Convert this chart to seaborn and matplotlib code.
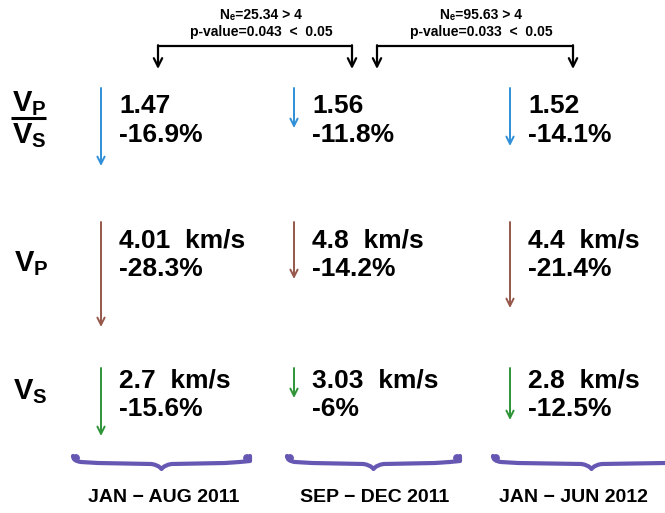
import numpy as np
import matplotlib
matplotlib.use("Agg")
import matplotlib.pyplot as plt
from matplotlib.path import Path
from matplotlib.patches import PathPatch
import seaborn as sns

# values
periods = ["JAN \u2212 AUG 2011", "SEP \u2212 DEC 2011", "JAN \u2212 JUN 2012"]
vpvs_values = [1.47, 1.56, 1.52]
vpvs_change = [-16.9, -11.8, -14.1]
vp_values = [4.01, 4.8, 4.4]
vp_change = [-28.3, -14.2, -21.4]
vs_values = [2.7, 3.03, 2.8]
vs_change = [-15.6, -6, -12.5]
# drawn arrow lengths (px) as in the reference
vpvs_arrow = [78, 40, 58]
vp_arrow = [105, 57, 86]
vs_arrow = [68, 30, 52]
ne_values = [25.34, 95.63]
p_values = [0.043, 0.033]

sns.set_theme(style="white")
plt.rcParams['font.family'] = ['Liberation Sans', 'DejaVu Sans']
plt.rcParams['font.weight'] = 'bold'
plt.rcParams['text.color'] = 'black'
plt.rcParams['mathtext.fontset'] = 'custom'
plt.rcParams['mathtext.bf'] = 'Liberation Sans:bold'
plt.rcParams['mathtext.rm'] = 'Liberation Sans:bold'

fig = plt.figure(figsize=(6.65, 5.13), dpi=100)
ax = fig.add_axes([0, 0, 1, 1])
ax.set_xlim(0, 665)
ax.set_ylim(513, 0)
ax.axis('off')

col_x = [101, 294, 510]
rows = [
    (vpvs_values, vpvs_change, vpvs_arrow, "", 88, 106, "#2f8fd8"),
    (vp_values, vp_change, vp_arrow, "  km/s", 222, 240, "#96584a"),
    (vs_values, vs_change, vs_arrow, "  km/s", 368, 380, "#2f9437"),
]

for vals, chg, lens, unit, y0, ty, color in rows:
    for i, x in enumerate(col_x):
        ax.annotate("", xy=(x, y0 + lens[i]), xytext=(x, y0),
                    arrowprops=dict(arrowstyle="->", color=color, lw=1.4,
                                    mutation_scale=13, shrinkA=0, shrinkB=0))
        ax.text(x + 18, ty, f"{vals[i]:g}{unit}", fontsize=19,
                fontweight='bold', va='center', ha='left', color='black')
        ax.text(x + 18, ty + 29, f"{chg[i]:g}%", fontsize=19,
                fontweight='bold', va='center', ha='left', color='black')

# row labels
lab = dict(fontsize=21, ha='center', va='center', color='black')
ax.text(29, 104, r"$\mathbf{V}_{\mathbf{P}}$", **lab)
ax.plot([11, 46], [118, 118], color='black', lw=2.2, solid_capstyle='butt')
ax.text(29, 136, r"$\mathbf{V}_{\mathbf{S}}$", **lab)
ax.text(31, 264, r"$\mathbf{V}_{\mathbf{P}}$", **lab)
ax.text(30, 392, r"$\mathbf{V}_{\mathbf{S}}$", **lab)

# significance brackets on top
brackets = [(158, 352), (377, 573)]
for (xa, xb), ne, p in zip(brackets, ne_values, p_values):
    ax.plot([xa, xb], [46, 46], color='black', lw=1.6, solid_capstyle='butt')
    for xx in (xa, xb):
        ax.annotate("", xy=(xx, 69), xytext=(xx, 45.2),
                    arrowprops=dict(arrowstyle="->", color='black', lw=1.6,
                                    mutation_scale=15, shrinkA=0, shrinkB=0))
    xm = (xa + xb) / 2
    ax.text(xm + 6, 15, f"N\u2091={ne:g} > 4", fontsize=10, fontweight='bold',
            ha='center', va='center', color='black')
    ax.text(xm + 6, 32, f"p-value={p:g}  <  0.05", fontsize=10, fontweight='bold',
            ha='center', va='center', color='black')


def brace(x0, x1, color="#6657b3"):
    xm = (x0 + x1) / 2
    verts = [(x0, 456), (x0, 461), (x0 + 8, 462), (x0 + 25, 463),
             (xm - 10, 464), (xm - 3, 465), (xm, 469),
             (xm + 3, 465), (xm + 10, 464), (x1 - 25, 463),
             (x1 - 8, 462), (x1, 461), (x1, 456)]
    codes = [Path.MOVETO, Path.CURVE3, Path.CURVE3, Path.LINETO,
             Path.LINETO, Path.CURVE3, Path.CURVE3,
             Path.CURVE3, Path.CURVE3, Path.LINETO,
             Path.CURVE3, Path.CURVE3, Path.LINETO]
    ax.add_patch(PathPatch(Path(verts, codes), fill=False, edgecolor=color,
                           lw=3.0, capstyle='round', joinstyle='round'))
    for xe in (x0 + 3, x1 - 3):
        ax.add_patch(plt.Circle((xe, 458), 3.2, color=color))


brace_spans = [(73, 250), (287, 460), (493, 690)]
label_x = [164, 375, 573]
for (x0, x1), lx, name in zip(brace_spans, label_x, periods):
    brace(x0, x1)
    ax.text(lx, 497, name, fontsize=14, fontweight='bold', ha='center',
            va='center', color='black')

fig.savefig("out.png", dpi=100)
